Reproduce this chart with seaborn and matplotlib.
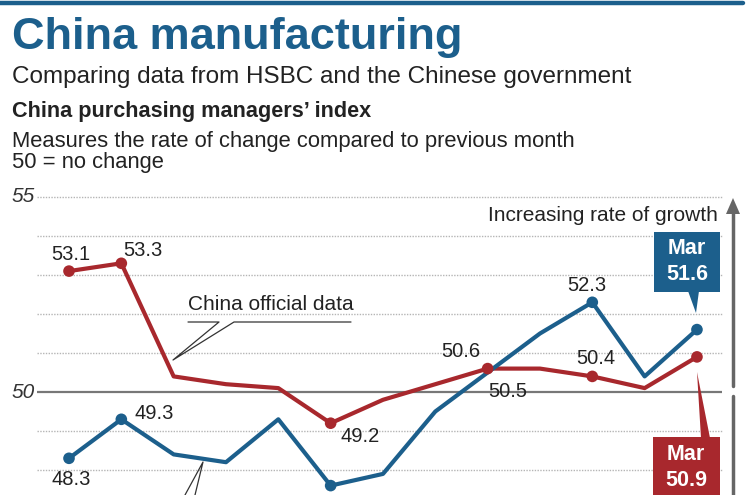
import numpy as np
import pandas as pd
import matplotlib
matplotlib.use("Agg")
import matplotlib.pyplot as plt
import seaborn as sns
from matplotlib.patches import Rectangle, Polygon
from matplotlib.lines import Line2D

# ---------------- data ----------------
months = ["Mar", "Apr", "May", "Jun", "Jul", "Aug", "Sep", "Oct", "Nov", "Dec", "Jan", "Feb", "Mar"]
official = [53.1, 53.3, 50.4, 50.2, 50.1, 49.2, 49.8, 50.2, 50.6, 50.6, 50.4, 50.1, 50.9]
hsbc = [48.3, 49.3, 48.4, 48.2, 49.3, 47.6, 47.9, 49.5, 50.5, 51.5, 52.3, 50.4, 51.6]
official_marked = [0, 1, 5, 8, 10, 12]
hsbc_marked = [0, 1, 5, 10, 12]
y_ticks = [55, 50]
grid_levels = [54, 53, 52, 51, 49, 48]

RED = "#a8282d"
BLUE = "#1c5f8c"
TXT = "#222222"

sns.set_theme(style="white")
plt.rcParams["font.family"] = ["Liberation Sans", "DejaVu Sans"]

W, H = 750, 495
fig = plt.figure(figsize=(7.5, 4.95), dpi=100)
fig.patch.set_facecolor("white")

def fx(x):
    return x / W

def fy(y):
    return 1 - y / H

step = 52.33
XLIM = (-69 / step, (W - 69) / step)
YLIM = (50 - (H - 392) / 39.0, 50 + 392 / 39.0)

ax = fig.add_axes([0, 0, 1, 1])

# gridlines
for g in grid_levels + [55]:
    ax.hlines(g, -0.61, 12.48, colors="#b5b5b5", linestyles=(0, (1, 1)), lw=1.0, zorder=1)
ax.hlines(50, -0.61, 12.48, colors="#777777", lw=1.6, zorder=1)
for t in y_ticks:
    ax.text(-0.66, t, str(t), ha="right", va="center", fontsize=15, style="italic", color="#333333")

df = pd.DataFrame({
    "idx": list(range(len(months))) * 2,
    "value": official + hsbc,
    "series": ["China official data"] * len(months) + ["HSBC"] * len(months),
})
pal = {"China official data": RED, "HSBC": BLUE}
sns.lineplot(data=df, x="idx", y="value", hue="series", palette=pal,
             lw=3, legend=False, ax=ax, zorder=3)

mk = pd.concat([
    pd.DataFrame({"idx": official_marked, "value": [official[i] for i in official_marked], "series": "China official data"}),
    pd.DataFrame({"idx": hsbc_marked, "value": [hsbc[i] for i in hsbc_marked], "series": "HSBC"}),
])
sns.scatterplot(data=mk, x="idx", y="value", hue="series", palette=pal,
                s=70, edgecolor="none", legend=False, ax=ax, zorder=4)
ax.set_xlim(*XLIM)
ax.set_ylim(*YLIM)
ax.axis("off")

# value labels (pixel offsets)
labels = [
    (official, 0, (2, 17)), (official, 1, (22, 13)), (official, 5, (29, -13)),
    (official, 8, (-27, 17)), (official, 10, (4, 18)),
    (hsbc, 0, (2, -21)), (hsbc, 1, (33, 6)), (hsbc, 8, (20, -19)), (hsbc, 10, (-5, 17)),
]
for series, i, off in labels:
    ax.annotate(f"{series[i]:.1f}", (i, series[i]), xytext=off, textcoords="offset pixels",
                ha="center", va="center", fontsize=14.5, color=TXT, zorder=5)

# ---------------- header ----------------
fig.add_artist(Line2D([0, fx(743)], [fy(2.5), fy(2.5)], color=BLUE, lw=3.2))
fig.text(fx(12), fy(49), "China manufacturing", fontsize=32.5, fontweight="bold", color=BLUE, va="baseline")
fig.text(fx(12), fy(83), "Comparing data from HSBC and the Chinese government", fontsize=17.5, color=TXT, va="baseline")
fig.text(fx(12), fy(117), "China purchasing managers\u2019 index", fontsize=15.6, fontweight="bold", color=TXT, va="baseline")
fig.text(fx(12), fy(147), "Measures the rate of change compared to previous month", fontsize=15.8, color=TXT, va="baseline")
fig.text(fx(12), fy(168), "50 = no change", fontsize=15.8, color=TXT, va="baseline")

# ---------------- annotations ----------------
fig.text(fx(718), fy(221), "Increasing rate of growth", fontsize=15, color=TXT, ha="right", va="baseline")
# growth arrow
fig.add_artist(Line2D([fx(733), fx(733)], [fy(212), fy(386)], color="#666666", lw=2.5))
fig.add_artist(Polygon([(fx(726), fy(214)), (fx(740), fy(214)), (fx(733), fy(198))],
                       closed=True, facecolor="#666666", edgecolor="none"))
fig.add_artist(Line2D([fx(733), fx(733)], [fy(396), fy(495)], color="#666666", lw=2.5))

# China official data label with pointer
fig.text(fx(188), fy(310), "China official data", fontsize=15, color=TXT, va="baseline")
fig.add_artist(Line2D([fx(188), fx(219), fx(173), fx(234), fx(351)],
                      [fy(322), fy(322), fy(360), fy(322), fy(322)], color="#333333", lw=0.9))
# HSBC pointer (its label lies below the visible area)
fig.add_artist(Line2D([fx(185), fx(203), fx(195)], [fy(495), fy(462), fy(495)], color="#333333", lw=0.9))

# Mar callouts
fig.add_artist(Rectangle((fx(654), fy(292)), fx(66), 60 / H, facecolor=BLUE, edgecolor="none"))
fig.add_artist(Polygon([(fx(688), fy(291)), (fx(699), fy(291)), (fx(696), fy(313))],
                       closed=True, facecolor=BLUE, edgecolor="none"))
fig.text(fx(687), fy(248), "Mar", fontsize=15.5, fontweight="bold", color="white", ha="center", va="center")
fig.text(fx(687), fy(275), f"{hsbc[-1]:.1f}", fontsize=15.5, fontweight="bold", color="white", ha="center", va="center")

fig.add_artist(Rectangle((fx(653), fy(495)), fx(67), 58 / H, facecolor=RED, edgecolor="none"))
fig.add_artist(Polygon([(fx(701), fy(438)), (fx(710), fy(438)), (fx(697), fy(372))],
                       closed=True, facecolor=RED, edgecolor="none"))
fig.text(fx(686), fy(455), "Mar", fontsize=15.5, fontweight="bold", color="white", ha="center", va="center")
fig.text(fx(686), fy(481), f"{official[-1]:.1f}", fontsize=15.5, fontweight="bold", color="white", ha="center", va="center")

fig.savefig("out.png", dpi=100, facecolor="white")
